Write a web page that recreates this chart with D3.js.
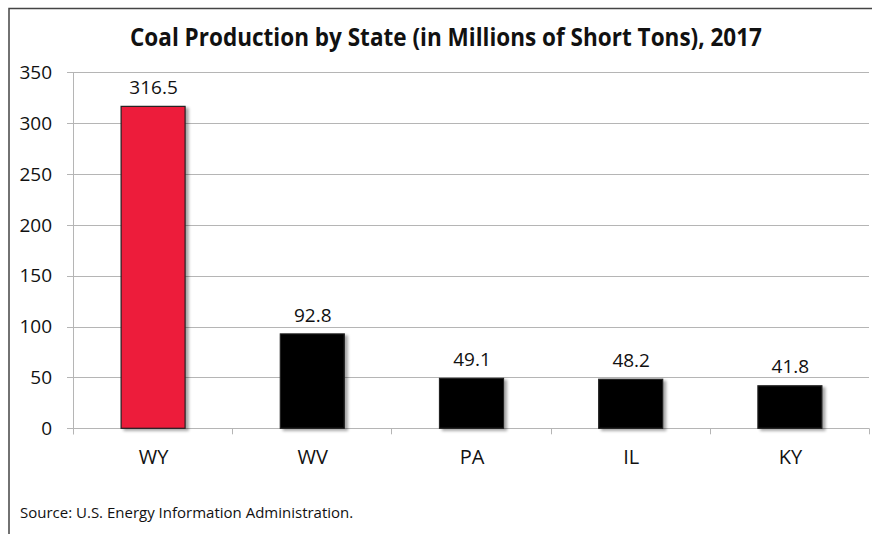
<!DOCTYPE html>
<html><head><meta charset="utf-8">
<script src="https://cdn.jsdelivr.net/npm/d3@7/dist/d3.min.js"></script>
<style>body{margin:0;background:#fff}svg{display:block}text{font-family:"Open Sans",sans-serif;fill:#111}</style>
</head><body><svg id="c" width="872" height="534"></svg>
<script>
const title = "Coal Production by State (in Millions of Short Tons), 2017";
const states = ["WY", "WV", "PA", "IL", "KY"];
const production = [316.5, 92.8, 49.1, 48.2, 41.8];
const barColors = ["#ED1B3B", "#000000", "#000000", "#000000", "#000000"];
const yTicks = [0, 50, 100, 150, 200, 250, 300, 350];
const source = "Source: U.S. Energy Information Administration.";

const svg = d3.select("#c");
const defs = svg.append("defs");
const f = defs.append("filter").attr("id","sh").attr("x","-20%").attr("y","-20%").attr("width","150%").attr("height","150%");
f.append("feGaussianBlur").attr("in","SourceAlpha").attr("stdDeviation",1.6).attr("result","b");
f.append("feOffset").attr("in","b").attr("dx",3).attr("dy",2).attr("result","o");
f.append("feComponentTransfer").attr("in","o").attr("result","o2").append("feFuncA").attr("type","linear").attr("slope",0.35);
const m = f.append("feMerge"); m.append("feMergeNode").attr("in","o2"); m.append("feMergeNode").attr("in","SourceGraphic");

// outer frame
svg.append("rect").attr("x",9).attr("y",8.5).attr("width",880).attr("height",540)
  .attr("fill","none").attr("stroke","#444").attr("stroke-width",1.5);

const L = 73, R = 869, T = 72.3, B = 428.3;
const x = d3.scaleBand().domain(states).range([L, R]).paddingInner(0.6).paddingOuter(0.3);
const y = d3.scaleLinear().domain([0, 350]).range([B, T]);

svg.append("text").attr("x",446).attr("y",46).attr("text-anchor","middle")
  .attr("font-size",25).attr("font-weight",700).attr("textLength",632).attr("lengthAdjust","spacingAndGlyphs").text(title);

// gridlines
svg.append("g").selectAll("line").data(yTicks).join("line")
  .attr("x1",L-6).attr("x2",R).attr("y1",d=>Math.round(y(d))+0.5).attr("y2",d=>Math.round(y(d))+0.5)
  .attr("stroke","#b5b5b5").attr("stroke-width",1);
svg.append("line").attr("x1",L+0.5).attr("x2",L+0.5).attr("y1",T).attr("y2",B+6).attr("stroke","#b5b5b5");

// y labels
svg.append("g").selectAll("text").data(yTicks).join("text")
  .attr("x",52).attr("y",d=>y(d)).attr("dy","0.35em").attr("text-anchor","end").attr("font-size",19).text(d=>d);

// category ticks
const edges = d3.range(states.length+1).map(i => L + i*(R-L)/states.length);
svg.append("g").selectAll("line").data(edges).join("line")
  .attr("x1",d=>Math.round(d)+0.5).attr("x2",d=>Math.round(d)+0.5).attr("y1",B).attr("y2",B+6).attr("stroke","#b5b5b5");

const data = states.map((s,i)=>({s, v: production[i], c: barColors[i]}));
const bw = 64;
svg.append("g").selectAll("rect").data(data).join("rect")
  .attr("x",d=>x(d.s)+x.bandwidth()/2-bw/2+0.5).attr("width",bw)
  .attr("y",d=>y(d.v)).attr("height",d=>B-y(d.v))
  .attr("fill",d=>d.c).attr("stroke","#222").attr("stroke-width",1.2).attr("filter","url(#sh)");

svg.append("g").selectAll("text").data(data).join("text")
  .attr("x",d=>x(d.s)+x.bandwidth()/2+1).attr("y",d=>y(d.v)-19).attr("dy","0.35em")
  .attr("text-anchor","middle").attr("font-size",19).text(d=>d.v.toFixed(1));

svg.append("g").selectAll("text").data(states).join("text")
  .attr("x",d=>x(d)+x.bandwidth()/2+1).attr("y",457).attr("dy","0.35em")
  .attr("text-anchor","middle").attr("font-size",20).text(d=>d);

svg.append("text").attr("x",20).attr("y",513).attr("dy","0.35em").attr("font-size",15).text(source);
</script></body></html>
